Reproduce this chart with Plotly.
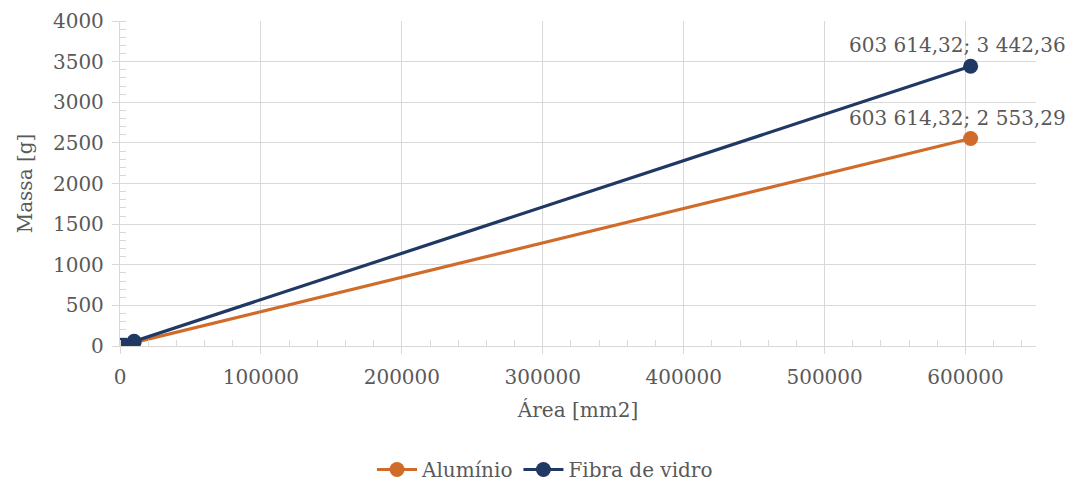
import plotly.graph_objects as go

# Área [mm2] vs Massa [g] for each material
area_aluminio = [0, 2500, 10000, 603614.32]
massa_aluminio = [0, 10.6, 42.3, 2553.29]
area_fibra = [0, 2500, 10000, 603614.32]
massa_fibra = [0, 14.3, 57.0, 3442.36]

label_aluminio = "603 614,32; 2 553,29"
label_fibra = "603 614,32; 3 442,36"

COR_ALU = "#D06B2A"
COR_FIBRA = "#1F3864"
TXT = "#595959"
GRID = "#D9D9D9"
FONT = "DejaVu Serif"

fig = go.Figure()
fig.add_trace(go.Scatter(
    x=area_aluminio, y=massa_aluminio, name="Alumínio",
    mode="lines+markers",
    line=dict(color=COR_ALU, width=3.2),
    marker=dict(color=COR_ALU, size=15),
))
fig.add_trace(go.Scatter(
    x=area_fibra, y=massa_fibra, name="Fibra de vidro",
    mode="lines+markers",
    line=dict(color=COR_FIBRA, width=3.2),
    marker=dict(color=COR_FIBRA, size=15),
))

for xs, ys, txt in [(area_fibra, massa_fibra, label_fibra),
                    (area_aluminio, massa_aluminio, label_aluminio)]:
    fig.add_annotation(
        x=xs[-1], y=ys[-1], text=txt, showarrow=False,
        xanchor="center", yanchor="bottom", xshift=-13, yshift=7,
        font=dict(family=FONT, size=20, color=TXT),
    )

axis_common = dict(
    showgrid=True, gridcolor=GRID, gridwidth=1.3,
    showline=True, linecolor=GRID, linewidth=1.3,
    ticks="outside", tickcolor=GRID, ticklen=7, tickwidth=1.3,
    tickfont=dict(family=FONT, size=20, color=TXT),
    zeroline=False,
)

fig.update_xaxes(
    range=[0, 650000], dtick=100000, tick0=0, tickformat="d",
    ticklabelstandoff=6,
    title=dict(text="Área [mm2]", font=dict(family=FONT, size=20, color=TXT), standoff=14),
    minor=dict(dtick=20000, ticks="inside", ticklen=6, tickcolor=GRID, showgrid=False),
    **axis_common,
)
fig.update_yaxes(
    range=[0, 4000], dtick=500, tick0=0,
    ticklabelstandoff=4,
    title=dict(text="Massa [g]", font=dict(family=FONT, size=20, color=TXT), standoff=14),
    minor=dict(dtick=100, ticks="inside", ticklen=6, tickcolor=GRID, showgrid=False),
    **axis_common,
)

fig.update_layout(
    width=1075, height=488,
    margin=dict(l=120, r=39, t=21, b=142, autoexpand=False),
    paper_bgcolor="white", plot_bgcolor="white",
    font=dict(family=FONT, color=TXT),
    showlegend=True,
    legend=dict(
        orientation="h", x=0.464, xanchor="center", y=-0.44, yanchor="bottom",
        font=dict(family=FONT, size=20, color=TXT),
        itemwidth=40, tracegroupgap=20,
    ),
)

fig.write_html("out.html")
